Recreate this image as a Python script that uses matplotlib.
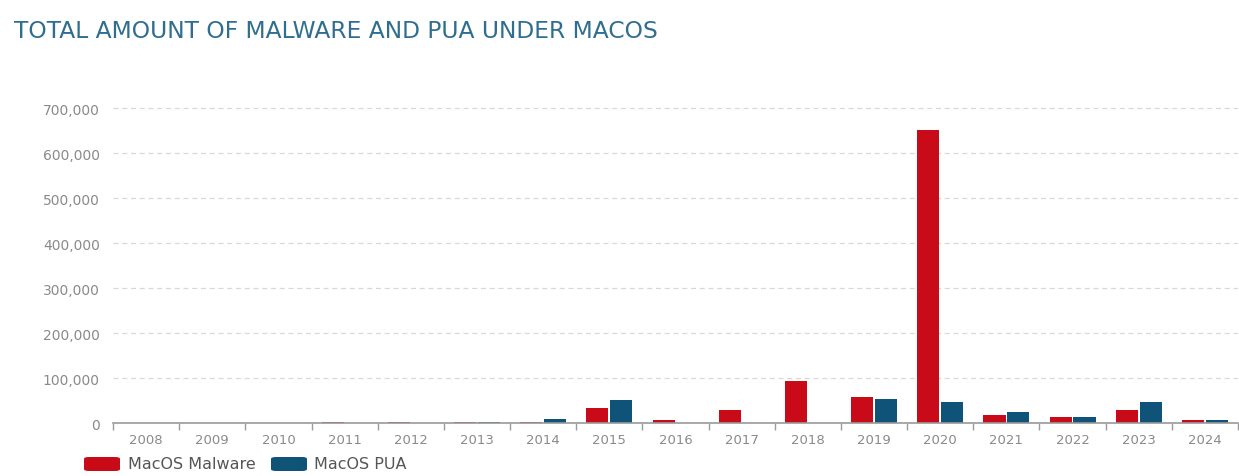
import numpy as np
import matplotlib.pyplot as plt
from matplotlib.patches import FancyBboxPatch
from matplotlib.ticker import FuncFormatter

plt.rcParams['font.family'] = ['DejaVu Sans']

years = ["2008", "2009", "2010", "2011", "2012", "2013", "2014", "2015", "2016",
         "2017", "2018", "2019", "2020", "2021", "2022", "2023", "2024"]
malware = [1000, 1000, 1000, 1500, 1500, 2000, 2500, 33000, 6000,
           29000, 93000, 58000, 651000, 18000, 13000, 29000, 6500]
pua = [0, 0, 0, 0, 0, 1500, 9000, 51000, 0,
       0, 0, 53000, 47000, 24000, 13000, 47000, 6500]

red = "#C80A19"
blue = "#0F5478"
grey = "#8A8A8A"

fig = plt.figure(figsize=(12.39, 4.77), dpi=100)
ax = fig.add_axes([0.0912, 0.111, 0.908, 0.717])

x = np.arange(len(years))
w = 0.335
ax.bar(x - 0.18, malware, w, color=red)
ax.bar(x + 0.18, pua, w, color=blue)

ax.set_xlim(-0.5, len(years) - 0.5)
ax.set_ylim(0, 760000)
ax.set_yticks(np.arange(0, 700001, 100000))
ax.yaxis.set_major_formatter(FuncFormatter(lambda v, p: f"{int(v):,}"))
ax.grid(axis="y", color="#D8D8D8", linestyle=(0, (4, 3)), linewidth=0.9)
ax.set_axisbelow(True)

for s in ["top", "right", "left"]:
    ax.spines[s].set_visible(False)
ax.spines["bottom"].set_color("#9A9A9A")
ax.spines["bottom"].set_linewidth(1.2)

ax.set_xticks(x)
ax.set_xticklabels(years)
ax.set_xticks(np.arange(-0.5, len(years), 1), minor=True)
ax.tick_params(axis="x", which="major", length=0, pad=7, labelsize=9.5, labelcolor=grey)
ax.tick_params(axis="x", which="minor", length=5, color="#9A9A9A", width=1)
ax.tick_params(axis="y", length=0, pad=9.5, labelsize=10, labelcolor=grey)

fig.text(0.011, 0.935, "TOTAL AMOUNT OF MALWARE AND PUA UNDER MACOS",
         fontsize=16.8, color="#2F6E8F", va="center")

# legend
for bx, tx, col, label in [(84, 128, red, "MacOS Malware"), (271, 314, blue, "MacOS PUA")]:
    fig.patches.append(FancyBboxPatch((bx / 1239, 1 - 472 / 477), 36 / 1239, 14 / 477,
                                      boxstyle="round,pad=0,rounding_size=0.004",
                                      transform=fig.transFigure, facecolor=col,
                                      edgecolor="none"))
    fig.text(tx / 1239, 1 - 465 / 477, label, fontsize=11.5, color="#555555",
             va="center")

fig.savefig("out.png", dpi=100)
